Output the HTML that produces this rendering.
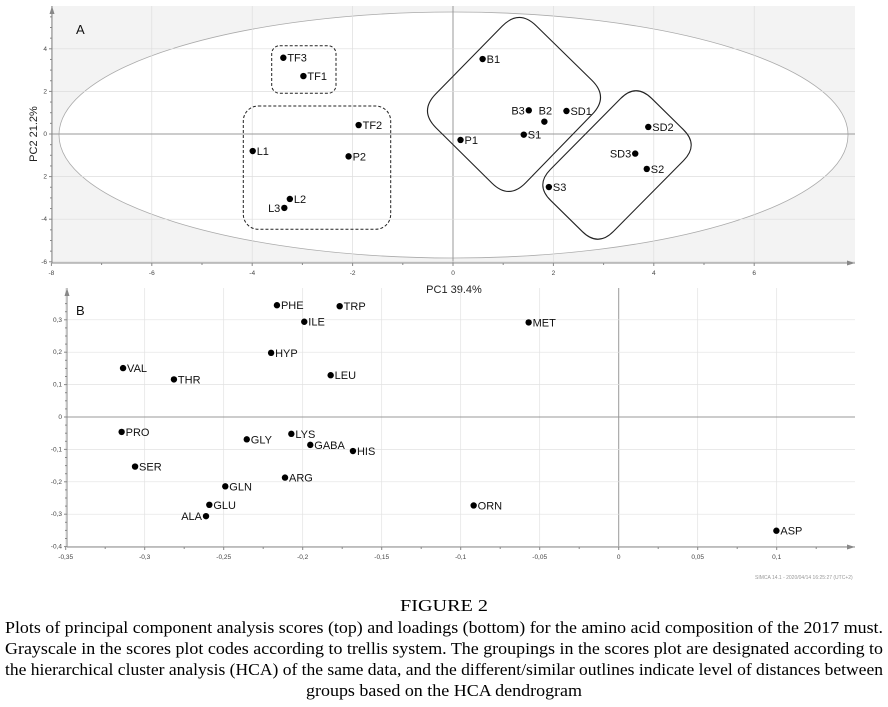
<!DOCTYPE html>
<html><head><meta charset="utf-8"><style>
body{margin:0;background:#fff;width:888px;height:707px;overflow:hidden}
svg{display:block}
.t{font-family:"Liberation Sans",sans-serif;font-size:6.5px;fill:#444}
.lb{font-family:"Liberation Sans",sans-serif;font-size:11px;fill:#111}
.cap{font-family:"Liberation Serif",serif;font-size:17px;fill:#000}
</style></head><body>
<svg id="fig" width="888" height="707" viewBox="0 0 888 707" xmlns="http://www.w3.org/2000/svg">
<g id="chartA"></g>
<g id="chartB"></g>
<text class="t" x="755" y="579" style="font-size:5px;fill:#999">SIMCA 14.1 - 2020/04/14 16:25:27 (UTC+2)</text>
<g>
<text class="cap" x="444" y="611" text-anchor="middle" textLength="88" lengthAdjust="spacingAndGlyphs">FIGURE 2</text>
<text class="cap" x="5" y="633" textLength="878" lengthAdjust="spacingAndGlyphs">Plots of principal component analysis scores (top) and loadings (bottom) for the amino acid composition of the 2017 must.</text>
<text class="cap" x="5" y="654" textLength="878" lengthAdjust="spacingAndGlyphs">Grayscale in the scores plot codes according to trellis system. The groupings in the scores plot are designated according to</text>
<text class="cap" x="5" y="675" textLength="878" lengthAdjust="spacingAndGlyphs">the hierarchical cluster analysis (HCA) of the same data, and the different/similar outlines indicate level of distances between</text>
<text class="cap" x="444" y="696" text-anchor="middle" textLength="276" lengthAdjust="spacingAndGlyphs">groups based on the HCA dendrogram</text>
</g>
</svg>
<script>
// ---- Scores data (chart A) ----
const scoreNames = ["TF3","TF1","TF2","L1","P2","L2","L3","B1","B3","B2","SD1","S1","P1","SD2","SD3","S2","S3"];
const scorePC1 = [-3.38,-2.98,-1.88,-3.99,-2.08,-3.25,-3.36,0.59,1.51,1.82,2.26,1.41,0.15,3.89,3.63,3.86,1.91];
const scorePC2 = [3.58,2.72,0.42,-0.80,-1.05,-3.05,-3.47,3.52,1.11,0.58,1.08,-0.03,-0.28,0.33,-0.92,-1.64,-2.49];
const scoreLabelSide = ["r","r","r","r","r","r","l","r","l","u","r","r","r","r","l","r","r"];
const xTicksA = [-8,-6,-4,-2,0,2,4,6];
const xTickLabelsA = ["-8","-6","-4","-2","0","2","4","6"];
const yTicksA = [4,2,0,-2,-4,-6];
const yTickLabelsA = ["4","2","0","2","-4","-6"];
// ---- Loadings data (chart B) ----
const loadNames = ["PHE","TRP","ILE","HYP","VAL","THR","LEU","PRO","GLY","LYS","GABA","HIS","SER","ARG","GLN","GLU","ALA","MET","ORN","ASP"];
const loadPC1 = [-0.2163,-0.1766,-0.199,-0.220,-0.3137,-0.2815,-0.1823,-0.3146,-0.2354,-0.2072,-0.1952,-0.1682,-0.3061,-0.2112,-0.249,-0.2591,-0.2612,-0.057,-0.0918,0.0998];
const loadPC2 = [0.345,0.342,0.294,0.198,0.151,0.116,0.129,-0.046,-0.069,-0.052,-0.086,-0.105,-0.153,-0.187,-0.214,-0.271,-0.306,0.292,-0.273,-0.351];
const loadLabelSide = ["r","r","r","r","r","r","r","r","r","r","r","r","r","r","r","r","l","r","r","r"];
const xTicksB = [-0.35,-0.3,-0.25,-0.2,-0.15,-0.1,-0.05,0,0.05,0.1];
const xTickLabelsB = ["-0,35","-0,3","-0,25","-0,2","-0,15","-0,1","-0,05","0","0,05","0,1"];
const yTicksB = [0.3,0.2,0.1,0,-0.1,-0.2,-0.3,-0.4];
const yTickLabelsB = ["0,3","0,2","0,1","0","-0,1","-0,2","-0,3","-0,4"];

const NS="http://www.w3.org/2000/svg";
function mk(p,tag,at){const e=document.createElementNS(NS,tag);for(const k in at)e.setAttribute(k,at[k]);p.appendChild(e);return e;}

// chart A scales
const xA=v=>453+v*50.2, yA=v=>134-v*21.3;
const A=document.getElementById('chartA');
const L=52,R=855,T=6,Bt=263;
let bg=mk(A,'rect',{x:L,y:T,width:R-L,height:Bt-T,fill:'#f3f3f3'});


let el=mk(A,'ellipse',{cx:453.5,cy:135,rx:394.5,ry:123,fill:'#fff',stroke:'#aaa','stroke-width':0.8});


for(let i=0;i<xTicksA.length;i++){const v=xTicksA[i],x=xA(v);
 const g=mk(A,'line',{x1:x,y1:T,x2:x,y2:Bt,stroke:v===0?'#999':'#ddd','stroke-width':v===0?1:0.7});
 
 
 mk(A,'line',{x1:x,y1:Bt,x2:x,y2:Bt+3,stroke:'#888'});
 const t=mk(A,'text',{x:x,y:Bt+12,'text-anchor':'middle',class:'t'});t.textContent=xTickLabelsA[i];
 
 
 if(i<xTicksA.length-1)mk(A,'line',{x1:xA(v+1),y1:Bt,x2:xA(v+1),y2:Bt+2,stroke:'#888'});}
for(let i=0;i<yTicksA.length;i++){const v=yTicksA[i],y=yA(v);
 const g=mk(A,'line',{x1:L,y1:y,x2:R,y2:y,stroke:v===0?'#999':'#ddd','stroke-width':v===0?1:0.7});
 
 
 mk(A,'line',{x1:L-3,y1:y,x2:L,y2:y,stroke:'#888'});
 const t=mk(A,'text',{x:L-5,y:y+2,'text-anchor':'end',class:'t'});t.textContent=yTickLabelsA[i];
 
 
 for(let k=1;k<4;k++){const yy=yA(v+k*0.5);if(yy>T)mk(A,'line',{x1:L-2,y1:yy,x2:L,y2:yy,stroke:'#888'});}}
mk(A,'line',{x1:L,y1:Bt,x2:L,y2:T,stroke:'#888'});
mk(A,'line',{x1:L,y1:Bt,x2:R,y2:Bt,stroke:'#888'});
mk(A,'path',{d:`M${L-2.5} ${T+8}L${L} ${T}L${L+2.5} ${T+8}Z`,fill:'#888'});
mk(A,'path',{d:`M${R-8} ${Bt-2.5}L${R} ${Bt}L${R-8} ${Bt+2.5}Z`,fill:'#888'});
let ty=mk(A,'text',{x:37,y:134,'text-anchor':'middle',transform:'rotate(-90 37 134)',style:'font-family:Liberation Sans,sans-serif;font-size:11px;fill:#222'});ty.textContent='PC2 21.2%';


let tx=mk(A,'text',{x:454,y:293,'text-anchor':'middle',style:'font-family:Liberation Sans,sans-serif;font-size:11px;fill:#222'});tx.textContent='PC1 39.4%';


let pa=mk(A,'text',{x:76,y:34,style:'font-family:Liberation Sans,sans-serif;font-size:13px;fill:#111'});pa.textContent='A';


// group outlines
let g1=mk(A,'rect',{x:271.7,y:45.7,width:64.3,height:47.6,rx:8,fill:'none',stroke:'#222','stroke-dasharray':'3 2','stroke-width':1});


let g2=mk(A,'rect',{x:243.3,y:106,width:147.4,height:123.3,rx:15,fill:'none',stroke:'#222','stroke-dasharray':'3 2','stroke-width':1});


function rounded(pts,r){let d='';const n=pts.length;
 for(let i=0;i<n;i++){const p=pts[i],a=pts[(i+n-1)%n],b=pts[(i+1)%n];
  const la=Math.hypot(a[0]-p[0],a[1]-p[1]),lb=Math.hypot(b[0]-p[0],b[1]-p[1]);
  const s=[p[0]+(a[0]-p[0])*r/la,p[1]+(a[1]-p[1])*r/la],e=[p[0]+(b[0]-p[0])*r/lb,p[1]+(b[1]-p[1])*r/lb];
  d+=(i?'L':'M')+s[0]+' '+s[1]+'Q'+p[0]+' '+p[1]+' '+e[0]+' '+e[1];}
 return d+'Z';}
let g3=mk(A,'path',{d:rounded([[519,9],[609,97],[509,200],[419,111]],24),fill:'none',stroke:'#222','stroke-width':1.1});


let g4=mk(A,'path',{d:rounded([[636,83],[699,145],[598,247],[535,185]],22),fill:'none',stroke:'#222','stroke-width':1.1});


function pts(P,names,xs,ys,sides,fx,fy,nm){
 for(let i=0;i<names.length;i++){const x=fx(xs[i]),y=fy(ys[i]);
  const c=mk(P,'circle',{cx:x,cy:y,r:3.2,fill:'#000'});
  
  
  const s=sides[i];let at={class:'lb'};
  if(s==='r'){at.x=x+4;at.y=y+4;}else if(s==='l'){at.x=x-4;at.y=y+4;at['text-anchor']='end';}else{at.x=x+1;at.y=y-7;at['text-anchor']='middle';}
  const t=mk(P,'text',at);t.textContent=names[i];
  
  }}
pts(A,scoreNames,scorePC1,scorePC2,scoreLabelSide,xA,yA,'score');

// chart B
const xB=v=>618.7+v*1580, yB=v=>417-v*324;
const B=document.getElementById('chartB');
const L2=67,R2=855,T2=288,B2=547;
for(let i=0;i<xTicksB.length;i++){const v=xTicksB[i],x=xB(v);
 const g=mk(B,'line',{x1:x,y1:T2,x2:x,y2:B2,stroke:Math.abs(v)<1e-9?'#999':'#e2e2e2','stroke-width':Math.abs(v)<1e-9?1:0.7});
 
 
 mk(B,'line',{x1:x,y1:B2,x2:x,y2:B2+3,stroke:'#888'});
 mk(B,'line',{x1:xB(v+0.025),y1:B2,x2:xB(v+0.025),y2:B2+2,stroke:'#888'});
 const t=mk(B,'text',{x:x,y:B2+12,'text-anchor':'middle',class:'t'});t.textContent=xTickLabelsB[i];
 
 }
for(let i=0;i<yTicksB.length;i++){const v=yTicksB[i],y=yB(v);
 const g=mk(B,'line',{x1:L2,y1:y,x2:R2,y2:y,stroke:Math.abs(v)<1e-9?'#999':'#e2e2e2','stroke-width':Math.abs(v)<1e-9?1:0.7});
 
 
 mk(B,'line',{x1:L2-3,y1:y,x2:L2,y2:y,stroke:'#888'});
 for(let k=1;k<4;k++){const yy=yB(v+k*0.025);if(yy>T2+6)mk(B,'line',{x1:L2-2,y1:yy,x2:L2,y2:yy,stroke:'#888'});}
 const t=mk(B,'text',{x:L2-5,y:y+2,'text-anchor':'end',class:'t'});t.textContent=yTickLabelsB[i];
 
 }
mk(B,'line',{x1:L2,y1:B2,x2:L2,y2:T2,stroke:'#888'});
mk(B,'line',{x1:L2,y1:B2,x2:R2,y2:B2,stroke:'#888'});
mk(B,'path',{d:`M${L2-2.5} ${T2+8}L${L2} ${T2}L${L2+2.5} ${T2+8}Z`,fill:'#888'});
mk(B,'path',{d:`M${R2-8} ${B2-2.5}L${R2} ${B2}L${R2-8} ${B2+2.5}Z`,fill:'#888'});
let pb=mk(B,'text',{x:76,y:315,style:'font-family:Liberation Sans,sans-serif;font-size:13px;fill:#111'});pb.textContent='B';


pts(B,loadNames,loadPC1,loadPC2,loadLabelSide,xB,yB,'loading');
</script>
</body></html>
